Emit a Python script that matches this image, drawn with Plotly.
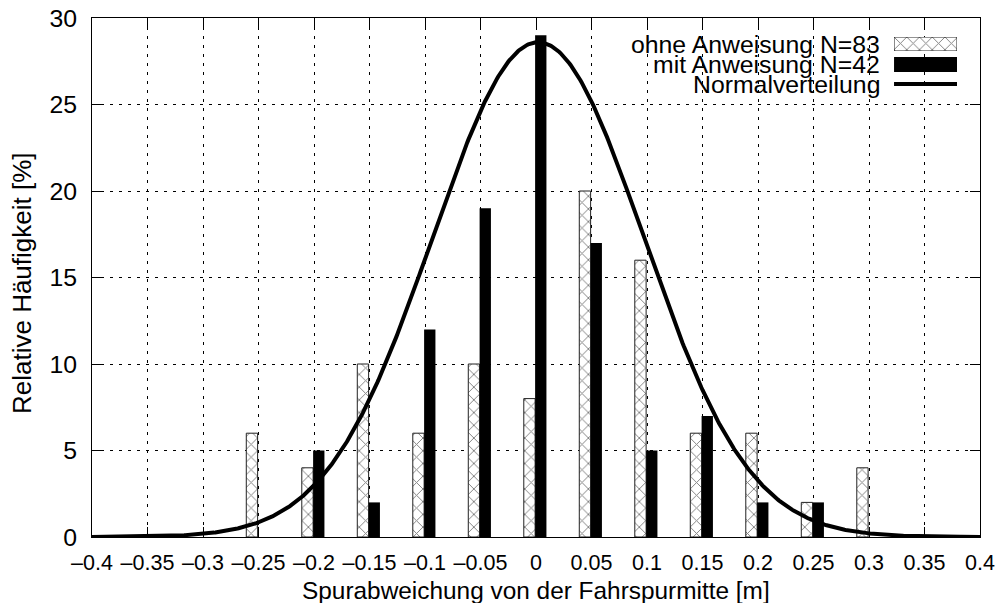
import numpy as np
import plotly.graph_objects as go

# --- data -------------------------------------------------------------------
x_ohne = [-0.25, -0.2, -0.15, -0.1, -0.05, 0.0, 0.05, 0.1, 0.15, 0.2, 0.25, 0.3]
y_ohne = [6, 4, 10, 6, 10, 8, 20, 16, 6, 6, 2, 4]

x_mit = [-0.2, -0.15, -0.1, -0.05, 0.0, 0.05, 0.1, 0.15, 0.2, 0.25]
y_mit = [5, 2, 12, 19, 29, 17, 5, 7, 2, 2]

# normal distribution fitted to the measurements
norm_mu = 0.002
norm_sigma = 0.095
norm_peak = 28.6

x_ticks = [-0.4, -0.35, -0.3, -0.25, -0.2, -0.15, -0.1, -0.05, 0.0,
           0.05, 0.1, 0.15, 0.2, 0.25, 0.3, 0.35, 0.4]
x_ticktext = ["\u20130.4", "\u20130.35", "\u20130.3", "\u20130.25", "\u20130.2",
              "\u20130.15", "\u20130.1", "\u20130.05", "0", "0.05", "0.1",
              "0.15", "0.2", "0.25", "0.3", "0.35", "0.4"]
y_ticks = [0, 5, 10, 15, 20, 25, 30]

x_title = "Spurabweichung von der Fahrspurmitte [m]"
y_title = "Relative H\u00e4ufigkeit [%]"
labels = ["ohne Anweisung N=83", "mit Anweisung N=42", "Normalverteilung"]

# --- figure -----------------------------------------------------------------
FAMILY = "Liberation Sans, Arial, Helvetica, sans-serif"
FONT = dict(family=FAMILY, size=24, color="black")
KEY_FONT = dict(family=FAMILY, size=24.8, color="black")
XTITLE_FONT = dict(family=FAMILY, size=24.4, color="black")
YTITLE_FONT = dict(family=FAMILY, size=26, color="black")
XTICK_FONT = dict(family=FAMILY, size=21.5, color="black")
YTICK_FONT = dict(family=FAMILY, size=24.8, color="black")
BAR_W = 0.0102
HATCH = dict(shape="x", size=9, solidity=0.2, fgcolor="black", bgcolor="white")

curve_x = np.linspace(-0.4, 0.4, 801)
curve_y = norm_peak * np.exp(-0.5 * ((curve_x - norm_mu) / norm_sigma) ** 2)

fig = go.Figure()
fig.add_trace(go.Bar(
    x=x_ohne, y=y_ohne, width=BAR_W, offset=-0.0110,
    marker=dict(color="white", pattern=HATCH, line=dict(color="#222", width=1)),
    name=labels[0], showlegend=False,
))
fig.add_trace(go.Bar(
    x=x_mit, y=y_mit, width=BAR_W, offset=-0.0008,
    marker=dict(color="black", line=dict(width=0)),
    name=labels[1], showlegend=False,
))
fig.add_trace(go.Scatter(
    x=curve_x, y=curve_y, mode="lines",
    line=dict(color="black", width=4),
    name=labels[2], showlegend=False,
))

# hatched key sample on its own tiny axis pair
fig.add_trace(go.Bar(
    x=[0.5], y=[1], width=[1], xaxis="x2", yaxis="y2",
    marker=dict(color="white", pattern=HATCH, line=dict(color="#222", width=1)),
    showlegend=False, hoverinfo="skip",
))

grid_dash = "3px,6px"
fig.update_layout(
    width=1000, height=603,
    margin=dict(l=92, r=20, t=18, b=66),
    paper_bgcolor="white", plot_bgcolor="white",
    font=FONT,
    barmode="overlay",
    xaxis=dict(
        range=[-0.4, 0.4], tickmode="array", tickvals=x_ticks, ticktext=x_ticktext,
        tickangle=0, automargin=False, tickfont=XTICK_FONT,
        showline=True, linecolor="black", linewidth=1, mirror="ticks",
        ticks="inside", ticklen=10, tickcolor="black", tickwidth=1,
        showgrid=True, gridcolor="black", gridwidth=1, griddash=grid_dash,
        zeroline=False, ticklabelstandoff=6,
    ),
    yaxis=dict(
        range=[0, 30], tickmode="array", tickvals=y_ticks, automargin=False,
        tickfont=YTICK_FONT,
        showline=True, linecolor="black", linewidth=1, mirror="ticks",
        ticks="inside", ticklen=10, tickcolor="black", tickwidth=1,
        showgrid=True, gridcolor="black", gridwidth=1, griddash=grid_dash,
        zeroline=False, ticklabelstandoff=9,
    ),
    xaxis2=dict(domain=[0.9032, 0.9741], range=[0, 1], anchor="y2", visible=False, fixedrange=True),
    yaxis2=dict(domain=[0.9364, 0.9634], range=[0, 1], anchor="x2", visible=False, fixedrange=True),
    showlegend=False,
)

# axis titles
fig.add_annotation(text=x_title, xref="paper", yref="paper", x=0.5, y=-0.103,
                   xanchor="center", yanchor="middle", showarrow=False, font=XTITLE_FONT)
fig.add_annotation(text=y_title, xref="paper", yref="paper", x=-0.0788, y=0.4894,
                   xanchor="center", yanchor="middle", textangle=-90, showarrow=False,
                   font=YTITLE_FONT)

# key: white background, black sample box and line sample
fig.add_shape(type="rect", xref="paper", yref="paper", x0=0.5968, x1=0.9797, y0=0.8863, y1=0.9788,
              fillcolor="white", line=dict(width=0), layer="between")
fig.add_shape(type="rect", xref="paper", yref="paper", x0=0.9032, x1=0.9741, y0=0.8960, y1=0.9249,
              fillcolor="black", line=dict(width=0), layer="above")
fig.add_shape(type="line", xref="paper", yref="paper", x0=0.9032, x1=0.9741, y0=0.8728, y1=0.8728,
              line=dict(color="black", width=4), layer="above")

for text, ypos in zip(labels, [0.9489, 0.9104, 0.8719]):
    fig.add_annotation(text=text, xref="paper", yref="paper", x=0.8896, y=ypos,
                       xanchor="right", yanchor="middle", showarrow=False, font=KEY_FONT)

fig.write_html("out.html")
